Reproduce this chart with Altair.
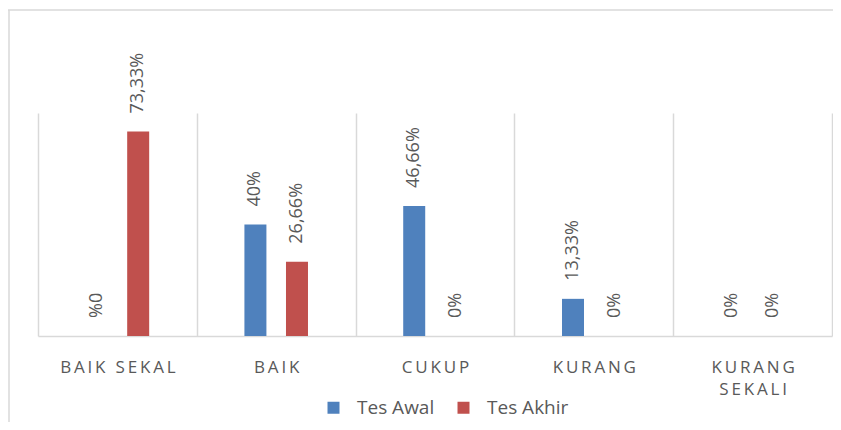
import altair as alt
import pandas as pd

categories = ["BAIK SEKAL", "BAIK", "CUKUP", "KURANG", "KURANG|SEKALI"]
series = ["Tes Awal", "Tes Akhir"]
tes_awal = [0, 40, 46.66, 13.33, 0]
tes_akhir = [73.33, 26.66, 0, 0, 0]
label_awal = ["%0", "40%", "46,66%", "13,33%", "0%"]
label_akhir = ["73,33%", "26,66%", "0%", "0%", "0%"]
colors = ["#4F81BD", "#C0504D"]


def spaced(s):
    return "|".join("\u2009".join(part) for part in s.split("|"))


display = [spaced(c) for c in categories]

rows = []
for i in range(len(categories)):
    rows.append(dict(cat=display[i], series=series[0], value=tes_awal[i], label=label_awal[i]))
    rows.append(dict(cat=display[i], series=series[1], value=tes_akhir[i], label=label_akhir[i]))
df = pd.DataFrame(rows)

FONT = "Open Sans"
GREY = "#595959"
LINE = "#d9d9d9"

x = alt.X(
    "cat:N",
    sort=display,
    scale=alt.Scale(paddingInner=0, paddingOuter=0),
    axis=alt.Axis(
        title=None,
        labelAngle=0,
        tickBand="extent",
        grid=True,
        gridColor=LINE,
        gridWidth=1.5,
        ticks=False,
        domainColor=LINE,
        domainWidth=1.5,
        labelExpr="split(datum.label, '|')",
        labelFont=FONT,
        labelFontSize=17,
        labelColor=GREY,
        labelPadding=23,
        labelLineHeight=22,
        labelBaseline="top",
    ),
)
xo = alt.XOffset("series:N", sort=series, scale=alt.Scale(paddingInner=0, paddingOuter=0.91))
y = alt.Y("value:Q", scale=alt.Scale(domain=[0, 80]), axis=None)

base = alt.Chart(df).encode(x=x, xOffset=xo, y=y)

bars = base.mark_bar(width=22).encode(
    color=alt.Color(
        "series:N",
        sort=series,
        scale=alt.Scale(domain=series, range=colors),
        legend=alt.Legend(
            title=None,
            orient="none",
            legendX=286,
            legendY=285,
            direction="horizontal",
            symbolType="square",
            symbolSize=144,
            symbolStrokeWidth=0,
            labelFont=FONT,
            labelFontSize=19,
            labelColor=GREY,
            labelOffset=14,
            columnPadding=19,
        ),
    )
)

texts = base.mark_text(
    angle=270, align="left", baseline="middle", dx=18, font=FONT, fontSize=18, color=GREY
).encode(text="label:N")

frame = pd.DataFrame({"a": [0]})
top_border = alt.Chart(frame).mark_rule(color=LINE, strokeWidth=1.5).encode(
    x=alt.value(-30), x2=alt.value(900), y=alt.value(-103)
)
left_border = alt.Chart(frame).mark_rule(color=LINE, strokeWidth=1.5).encode(
    x=alt.value(-29), y=alt.value(-103), y2=alt.value(400)
)

chart = (
    alt.layer(top_border, left_border, bars, texts)
    .properties(
        width=794,
        height=223,
        autosize=alt.AutoSizeParams(type="none"),
        padding={"left": 30, "top": 105, "right": 1, "bottom": 86},
    )
    .configure_view(stroke="transparent")
)

chart.save("out.html", embed_options={"renderer": "svg", "actions": False})
